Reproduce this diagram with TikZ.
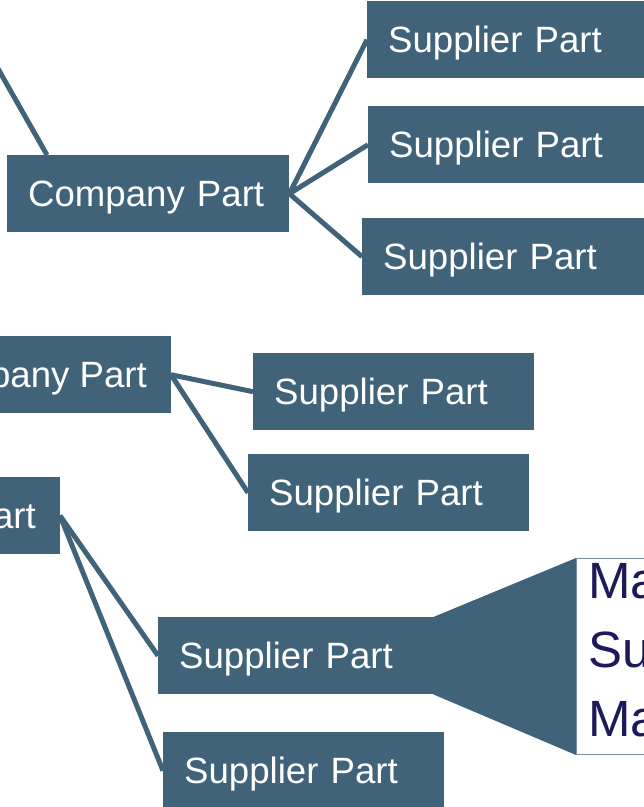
\documentclass[tikz,border=0pt]{standalone}
\usepackage{fontspec}
\setmainfont{Liberation Sans}
\usetikzlibrary{calc,backgrounds}
\definecolor{boxc}{RGB}{65,99,122}
\definecolor{navy}{RGB}{30,26,90}
\definecolor{calloutedge}{RGB}{120,145,165}
\begin{document}
\begin{tikzpicture}[x=1pt,y=-1pt,
  part/.style={fill=boxc, text=white, font=\fontsize{36.6}{44}\selectfont,
    minimum height=77pt, text height=26.5pt, text depth=0pt,
    inner xsep=21pt, inner ysep=0pt, anchor=north west, align=left, text width=#1},
  part/.default=239pt,
  cutpart/.style={fill=boxc, text=white, font=\fontsize{36.6}{44}\selectfont,
    minimum height=77pt, text height=26.5pt, text depth=0pt,
    inner xsep=24pt, inner ysep=0pt, anchor=north east},
  link/.style={draw=boxc, line width=5pt},
  calloutbox/.style={draw=calloutedge, line width=1pt, fill=white, anchor=north west,
    minimum width=100pt, minimum height=196pt, inner sep=0pt},
  callouttext/.style={text=navy, font=\fontsize{51}{69}\selectfont, anchor=north west,
    align=left, inner sep=0pt}]
\useasboundingbox (0,0) rectangle (644,807);
\clip (0,0) rectangle (644,807);

% nodes
\node[part] (s1) at (367,1) {Supplier Part};
\node[part] (s2) at (368,106) {Supplier Part};
\node[part=240pt] (s3) at (362,218) {Supplier Part};
\node[part=240pt] (cp) at (7,155) {Company Part};
\node[cutpart] (cp2) at (171,336) {pany Part};
\node[part] (s6) at (253,353) {Supplier Part};
\node[part] (s7) at (248,454) {Supplier Part};
\node[cutpart] (cp3) at (60,477) {art};
\node[part=235pt] (s9) at (158,617) {Supplier Part};
\node[part] (s10) at (163,732) {Supplier Part};

% callout
\node[calloutbox] (callout) at (576,558) {};
\node[callouttext] (calltext) at (588,563) {Ma\\Su\\Ma};
\begin{scope}[on background layer]
  \fill[boxc] ($(s9.north east)+(-2,0)$) -- (callout.north west) -- (callout.south west) -- ($(s9.south east)+(-2,0)$) -- cycle;
\end{scope}

% connectors
\coordinate (upstream) at (-20,37);
\draw[link] (upstream) -- ($(cp.north west)+(40,0)$);
\draw[link] (cp.east) -- (s1.west);
\draw[link] (cp.east) -- (s2.west);
\draw[link] (cp.east) -- (s3.west);
\draw[link] (cp2.east) -- (s6.west);
\draw[link] (cp2.east) -- (s7.west);
\draw[link] (cp3.east) -- (s9.west);
\draw[link] (cp3.east) -- (s10.west);
\end{tikzpicture}
\end{document}
